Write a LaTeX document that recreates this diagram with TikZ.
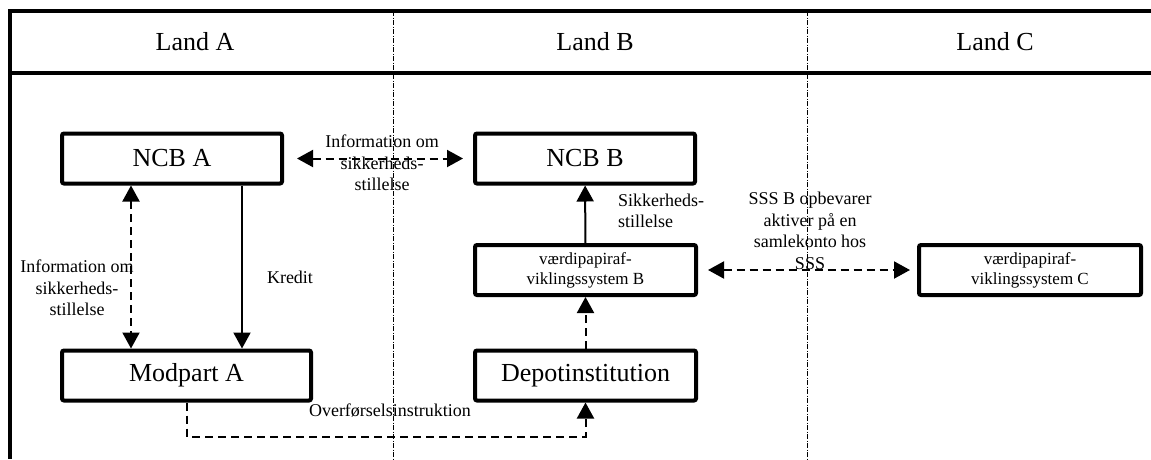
\documentclass[tikz,border=0pt]{standalone}
\usepackage{fontspec}
\setmainfont{Liberation Serif}
\usetikzlibrary{arrows.meta, positioning, calc}
\tikzset{
  hbox/.style={draw, line width=4pt, rounded corners=2pt, minimum height=50pt,
               font=\fontsize{26}{30}\selectfont, inner sep=4pt},
  sbox/.style={hbox, font=\fontsize{17}{20}\selectfont, align=center},
  lbl/.style={font=\fontsize{18}{21.5}\selectfont, align=center, inner sep=0pt},
  head/.style={font=\fontsize{26}{30}\selectfont, inner sep=0pt},
  arr/.style={-{Triangle[length=16pt,width=17pt]}, line width=2pt},
  darr/.style={arr, dash pattern=on 8pt off 5pt},
  ddarr/.style={{Triangle[length=16pt,width=17pt]}-{Triangle[length=16pt,width=17pt]},
                line width=2pt, dash pattern=on 8pt off 5pt},
  divider/.style={line width=0.7pt, dash pattern=on 5pt off 1.5pt on 1pt off 1.5pt},
}

\begin{document}
\begin{tikzpicture}[x=1pt, y=-1pt]
  \useasboundingbox (0,0) rectangle (1151,459);
  \draw[divider] (393,11) -- (393,459);
  \draw[divider] (807,11) -- (807,459);
  \draw[line width=4pt] (1151,11) -- (10,11) -- (10,459);
  \draw[line width=4pt] (10,73) -- (1151,73);

  \node[head] (landA) at (195,42) {Land A};
  \node[head] (landB) at (595,42) {Land B};
  \node[head] (landC) at (995,42) {Land C};

  \node[hbox, minimum width=220pt] (ncbA) at (172,158.5) {NCB A};
  \node[hbox, minimum width=220pt] (ncbB) at (585,158.5) {NCB B};
  \node[sbox, minimum width=221pt] (vpB) at (585.5,270) {værdipapiraf-\\viklingssystem B};
  \node[sbox, minimum width=222pt] (vpC) at (1030,270) {værdipapiraf-\\viklingssystem C};
  \node[hbox, minimum width=249pt] (modA) at (186.5,375.5) {Modpart A};
  \node[hbox, minimum width=221pt] (depot) at (585.5,375.5) {Depotinstitution};

  \draw[ddarr, shorten <=13pt, shorten >=10pt] (ncbA) -- (ncbB);
  \draw[ddarr, shorten <=10pt, shorten >=7pt] (vpB) -- (vpC);
  \draw[ddarr] ([xshift=71pt]ncbA.south west) -- ([xshift=71pt]modA.north west);
  \draw[arr] ([xshift=182pt]ncbA.south west) -- ([xshift=182pt]modA.north west);
  \draw[arr] (vpB) -- (ncbB);
  \draw[darr] (depot) -- (vpB);
  \draw[darr] ([xshift=127pt]modA.south west) -- ++(0,34) -| (depot.south);

  \node[lbl] (infoTop) at (382,163) {Information om\\sikkerheds-\\stillelse};
  \node[lbl] (infoLeft) at (77,288) {Information om\\sikkerheds-\\stillelse};
  \node[lbl] (kredit) at (290,277) {Kredit};
  \node[lbl, anchor=west, align=left] (sikk) at (618,211) {Sikkerheds-\\stillelse};
  \node[lbl] (sssB) at (810,231) {SSS B opbevarer\\aktiver på en\\samlekonto hos\\SSS};
  \node[lbl] (ovfLbl) at (390,411) {Overførselsinstruktion};
\end{tikzpicture}
\end{document}
